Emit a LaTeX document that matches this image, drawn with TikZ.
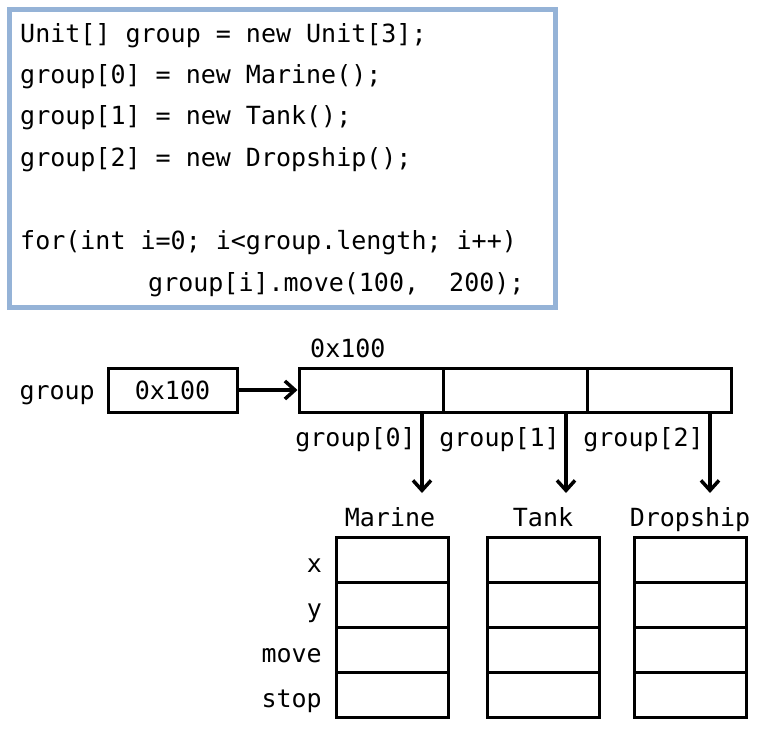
\documentclass[tikz,border=0pt]{standalone}
\usepackage{fontspec}
\setmonofont{DejaVu Sans Mono}
\usepackage{xcolor}
\definecolor{codeframe}{RGB}{149,179,215}
\usetikzlibrary{arrows.meta, positioning}

\begin{document}
\begin{tikzpicture}[
  x=1pt, y=-1pt,
  txt/.style={inner sep=0pt, font=\ttfamily\fontsize{25}{30}\selectfont},
  cell/.style={draw, line width=3pt, minimum width=144pt, minimum height=44pt, inner sep=0pt},
  field/.style={draw, line width=3pt, minimum width=112pt, minimum height=45pt, inner sep=0pt},
  ref/.style={-{Straight Barb[length=10pt, width=18pt, line width=3.5pt]}, line width=3.5pt}
]
  \useasboundingbox (0,0) rectangle (760,728);

  % Code block
  \node[draw=codeframe, line width=4.5pt, minimum width=546pt, minimum height=298pt,
        anchor=north west] (frame) at (7,7) {};
  \node[txt, anchor=base west] (code1) at (20,42)  {Unit[] group = new Unit[3];};
  \node[txt, anchor=base west] (code2) at (20,83)  {group[0] = new Marine();};
  \node[txt, anchor=base west] (code3) at (20,124) {group[1] = new Tank();};
  \node[txt, anchor=base west] (code4) at (20,166) {group[2] = new Dropship();};
  \node[txt, anchor=base west] (code5) at (20,249) {for(int i=0; i<group.length; i++)};
  \node[txt, anchor=base west] (code6) at (148,291) {group[i].move(100,\ \ 200);};

  % Reference variable and array
  \node[draw, line width=3pt, minimum width=129pt, minimum height=44pt, inner sep=0pt,
        font=\ttfamily\fontsize{25}{30}\selectfont] (ptr) at (172.5,390) {0x100};
  \node[txt, anchor=base east] (grouplbl) at (95,399) {group};
  \node[cell] (cell0) at (371,390) {};
  \node[cell] (cell1) at (515,390) {};
  \node[cell] (cell2) at (659,390) {};
  \node[txt, anchor=base west] (addr) at (310,357) {0x100};
  \draw[ref] (ptr.east) -- (cell0.west);

  % Elements -> objects
  \foreach \i/\cx in {0/422, 1/566, 2/710} {
    \coordinate (s\i) at (\cx,412);
    \coordinate (e\i) at (\cx,493);
    \draw[ref] (s\i) -- (e\i);
    \node[txt, anchor=base east] (elem\i) at (\cx-6,446) {group[\i]};
  }

  % Objects
  \foreach \obj/\cx in {marine/392, tank/543, dropship/690.5}
    \foreach \r in {1,...,4}
      \node[field] (\obj-\r) at (\cx,514.5+45*\r) {};
  \node[txt, anchor=base] (marinename)   at (390,526) {Marine};
  \node[txt, anchor=base] (tankname)     at (543,526) {Tank};
  \node[txt, anchor=base] (dropshipname) at (690,526) {Dropship};

  % Field names
  \foreach \f [count=\r] in {x, y, move, stop}
    \node[txt, anchor=base east] (fld\r) at (322,527.5+45*\r) {\f};
\end{tikzpicture}
\end{document}
